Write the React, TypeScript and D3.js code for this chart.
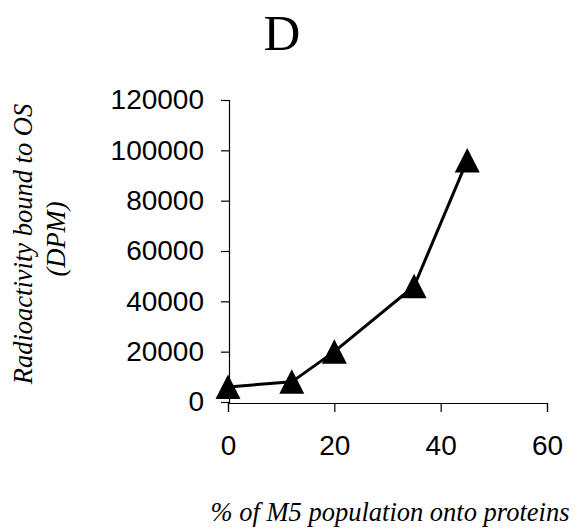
import React, { useRef, useEffect } from 'react';
import * as d3 from 'd3';

const xValues = [0, 12, 20, 35, 45];
const yValues = [6000, 8000, 20000, 46000, 96000];
const xTicks = [0, 20, 40, 60];
const yTicks = [0, 20000, 40000, 60000, 80000, 100000, 120000];

const App = () => {
    const ref = useRef<SVGSVGElement | null>(null);

    useEffect(() => {
        if (!ref.current) return;
        drawChart(ref.current);
    }, []);

    return (
        <svg ref={ref} width={578} height={531}
            style={{ position: 'absolute', left: 0, top: 0, background: '#fff' }} />
    );
};

function drawChart(el: SVGSVGElement) {
    const svg = d3.select(el);
    svg.selectAll('*').remove();

    const left = 228, right = 547, top = 100, bottom = 402;

    const x = d3.scaleLinear().domain([0, 60]).range([left, right]);
    const y = d3.scaleLinear().domain([0, 120000]).range([bottom, top]);

    const tickFont = 'Liberation Sans';
    const serif = 'Liberation Serif';

    // title
    svg.append('text')
        .attr('x', 282)
        .attr('y', 50)
        .attr('text-anchor', 'middle')
        .attr('font-family', serif)
        .attr('font-size', 51)
        .text('D');

    const xAxis = d3.axisBottom(x).tickValues(xTicks).tickSize(9).tickPadding(23);
    const yAxis = d3.axisLeft(y).tickValues(yTicks).tickSize(8).tickPadding(17)
        .tickFormat(d3.format('d'));

    const gx = svg.append('g')
        .attr('transform', `translate(0,${bottom + 1})`)
        .call(xAxis);
    const gy = svg.append('g')
        .attr('transform', `translate(${left + 1},0)`)
        .call(yAxis);

    [gx, gy].forEach(g => {
        g.attr('font-family', tickFont).attr('font-size', 28);
        g.selectAll('path, line').attr('stroke', '#000').attr('stroke-width', 1.2);
        g.selectAll('text').attr('fill', '#000');
    });
    gx.selectAll('text').attr('dy', '0.71em');

    // axis titles
    const yTitle = svg.append('g')
        .attr('font-family', serif)
        .attr('font-style', 'italic')
        .attr('font-size', 26.5);
    yTitle.append('text')
        .attr('transform', 'translate(32,244) rotate(-90)')
        .attr('text-anchor', 'middle')
        .text('Radioactivity bound to OS');
    yTitle.append('text')
        .attr('transform', 'translate(65,239) rotate(-90)')
        .attr('text-anchor', 'middle')
        .text('(DPM)');

    svg.append('text')
        .attr('x', 390)
        .attr('y', 521)
        .attr('text-anchor', 'middle')
        .attr('font-family', serif)
        .attr('font-style', 'italic')
        .attr('font-size', 26.5)
        .text('% of M5 population onto proteins');

    const points = xValues.map((v, i) => ({ x: v, y: yValues[i] }));

    const line = d3.line<{ x: number; y: number }>()
        .x(d => x(d.x))
        .y(d => y(d.y));

    svg.append('path')
        .datum(points)
        .attr('d', line)
        .attr('fill', 'none')
        .attr('stroke', '#000')
        .attr('stroke-width', 3);

    const tri = 'M0,-12.5L12.5,12L-12.5,12Z';
    svg.selectAll('.marker')
        .data(points)
        .enter()
        .append('path')
        .attr('class', 'marker')
        .attr('d', tri)
        .attr('transform', d => `translate(${x(d.x)},${y(d.y)})`)
        .attr('fill', '#000');
}

export default App;
